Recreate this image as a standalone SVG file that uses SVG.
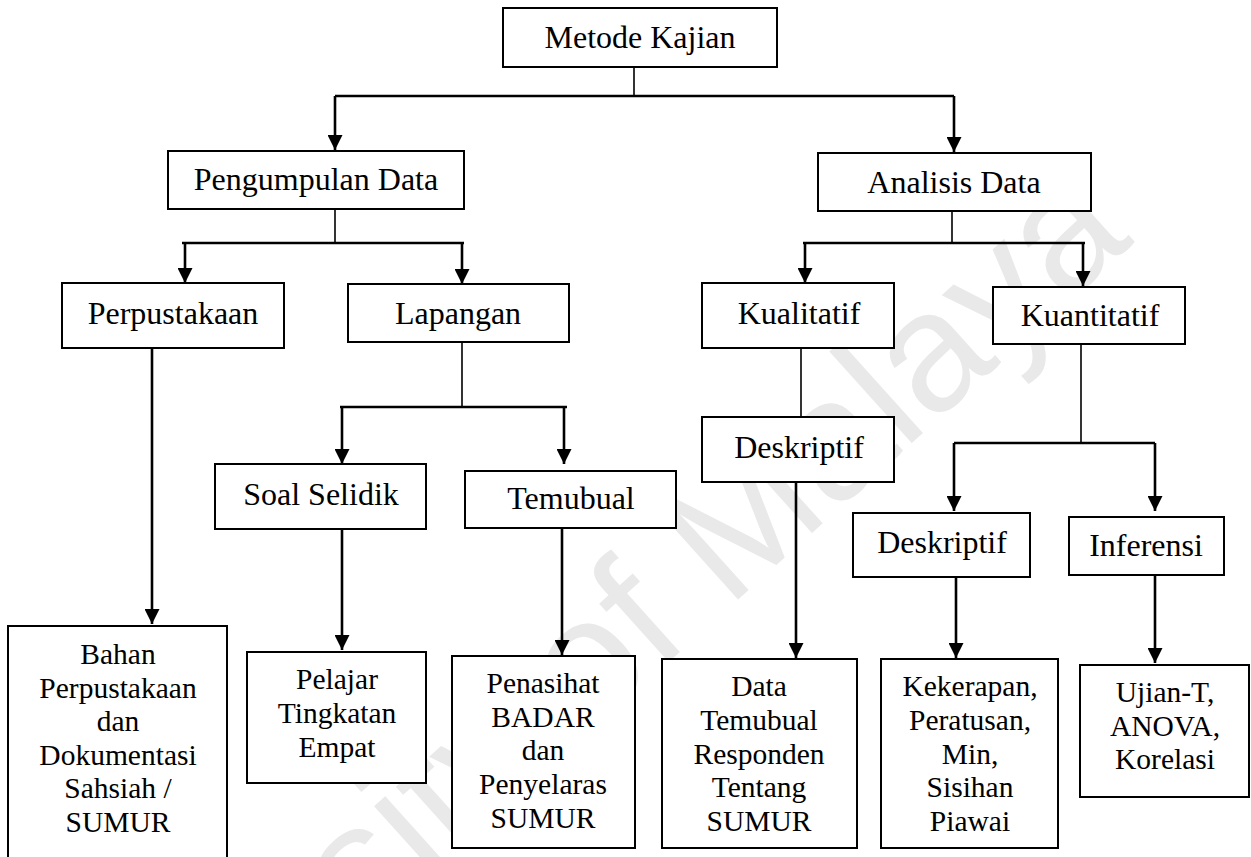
<svg xmlns="http://www.w3.org/2000/svg" width="1251" height="857" viewBox="0 0 1251 857">
<defs>
<marker id="ah" markerUnits="userSpaceOnUse" markerWidth="15" markerHeight="15" viewBox="0 0 15 15" refX="15" refY="7.5" orient="auto">
<path d="M0,0 L15,7.5 L0,15 z" fill="#000"/>
</marker>
</defs>
<style>
.box{fill:#fff;stroke:#000;stroke-width:2}
.t{font-family:"Liberation Serif","Times New Roman",serif;font-size:32px;fill:#000;text-anchor:middle}
.m{font-family:"Liberation Serif","Times New Roman",serif;font-size:29.5px;fill:#000;text-anchor:middle}
.thin{stroke:#000;stroke-width:1.6;fill:none}
.bar{stroke:#000;stroke-width:2.4;fill:none}
.arr{stroke:#000;stroke-width:2.6;fill:none;marker-end:url(#ah)}
.wm{font-family:"Liberation Sans",Arial,sans-serif;font-size:170px;fill:#e9e9e9}
</style>
<rect width="1251" height="857" fill="#fff"/>
<text class="wm" x="0" y="0" text-anchor="end" transform="translate(1135,242) rotate(-42)">University of Malaya</text>
<g id="connectors">
<path class="thin" d="M634,67 V96"/>
<path class="bar" d="M335,96 H954"/>
<path class="arr" d="M335,96 V150"/>
<path class="arr" d="M954,96 V152"/>
<path class="thin" d="M335,209 V243"/>
<path class="bar" d="M182,243 H464"/>
<path class="arr" d="M185,243 V283"/>
<path class="arr" d="M462,243 V284"/>
<path class="thin" d="M952,211 V243"/>
<path class="bar" d="M803,243 H1085"/>
<path class="arr" d="M805,243 V283"/>
<path class="arr" d="M1083,243 V286"/>
<path class="arr" d="M152,348 V624"/>
<path class="thin" d="M462,342 V407"/>
<path class="bar" d="M340,407 H567"/>
<path class="arr" d="M342,407 V464"/>
<path class="arr" d="M564,407 V464"/>
<path class="arr" d="M342,529 V650"/>
<path class="arr" d="M562,528 V655"/>
<path class="thin" d="M801,348 V417"/>
<path class="arr" d="M796,482 V658"/>
<path class="thin" d="M1081,344 V443"/>
<path class="bar" d="M954,443 H1155"/>
<path class="arr" d="M954,443 V511"/>
<path class="arr" d="M1155,443 V511"/>
<path class="arr" d="M956,577 V658"/>
<path class="arr" d="M1155,575 V663"/>
</g>
<g id="metode"><rect class="box" x="503" y="8" width="274" height="59"/><text class="t" x="640" y="48">Metode Kajian</text></g>
<g id="pengumpulan"><rect class="box" x="168" y="151" width="296" height="58"/><text class="t" x="316" y="190">Pengumpulan Data</text></g>
<g id="analisis"><rect class="box" x="818" y="153" width="273" height="58"/><text class="t" x="954" y="193">Analisis Data</text></g>
<g id="perpustakaan"><rect class="box" x="62" y="283" width="222" height="65"/><text class="t" x="173" y="324">Perpustakaan</text></g>
<g id="lapangan"><rect class="box" x="348" y="284" width="221" height="58"/><text class="t" x="458" y="324">Lapangan</text></g>
<g id="kualitatif"><rect class="box" x="702" y="283" width="192" height="65"/><text class="t" x="799" y="324">Kualitatif</text></g>
<g id="kuantitatif"><rect class="box" x="993" y="287" width="192" height="57"/><text class="t" x="1090" y="326">Kuantitatif</text></g>
<g id="soal"><rect class="box" x="215" y="464" width="211" height="65"/><text class="t" x="321" y="505">Soal Selidik</text></g>
<g id="temubual"><rect class="box" x="465" y="471" width="211" height="57"/><text class="t" x="571" y="509">Temubual</text></g>
<g id="deskriptif1"><rect class="box" x="702" y="417" width="192" height="65"/><text class="t" x="799" y="458">Deskriptif</text></g>
<g id="deskriptif2"><rect class="box" x="853" y="513" width="177" height="64"/><text class="t" x="942" y="553">Deskriptif</text></g>
<g id="inferensi"><rect class="box" x="1069" y="517" width="155" height="58"/><text class="t" x="1146" y="556">Inferensi</text></g>
<g id="bahan"><rect class="box" x="8" y="626" width="219" height="240"/>
<text class="m" x="118"><tspan x="118" y="664">Bahan</tspan><tspan x="118" y="697.5">Perpustakaan</tspan><tspan x="118" y="731">dan</tspan><tspan x="118" y="764.5">Dokumentasi</tspan><tspan x="118" y="798">Sahsiah /</tspan><tspan x="118" y="831.5">SUMUR</tspan></text></g>
<g id="pelajar"><rect class="box" x="247" y="652" width="179" height="131"/>
<text class="m" x="337"><tspan x="337" y="689">Pelajar</tspan><tspan x="337" y="723">Tingkatan</tspan><tspan x="337" y="757">Empat</tspan></text></g>
<g id="penasihat"><rect class="box" x="452" y="656" width="183" height="192"/>
<text class="m" x="543"><tspan x="543" y="693">Penasihat</tspan><tspan x="543" y="727">BADAR</tspan><tspan x="543" y="760">dan</tspan><tspan x="543" y="794">Penyelaras</tspan><tspan x="543" y="828">SUMUR</tspan></text></g>
<g id="data"><rect class="box" x="662" y="659" width="195" height="189"/>
<text class="m" x="759"><tspan x="759" y="696">Data</tspan><tspan x="759" y="730">Temubual</tspan><tspan x="759" y="764">Responden</tspan><tspan x="759" y="797">Tentang</tspan><tspan x="759" y="831">SUMUR</tspan></text></g>
<g id="kekerapan"><rect class="box" x="881" y="659" width="177" height="189"/>
<text class="m" x="970"><tspan x="970" y="696">Kekerapan,</tspan><tspan x="970" y="730">Peratusan,</tspan><tspan x="970" y="764">Min,</tspan><tspan x="970" y="797">Sisihan</tspan><tspan x="970" y="831">Piawai</tspan></text></g>
<g id="ujian"><rect class="box" x="1080" y="665" width="169" height="132"/>
<text class="m" x="1165"><tspan x="1165" y="702">Ujian-T,</tspan><tspan x="1165" y="736">ANOVA,</tspan><tspan x="1165" y="769">Korelasi</tspan></text></g>
</svg>
